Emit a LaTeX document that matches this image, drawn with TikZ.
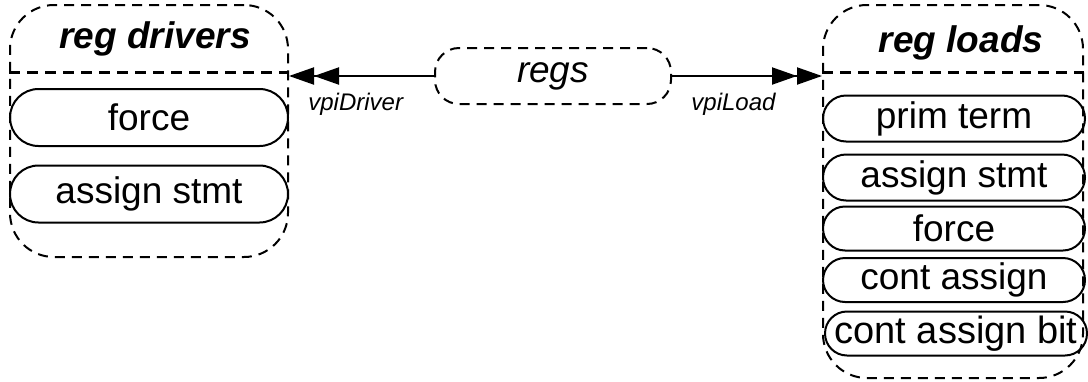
\documentclass[tikz,border=0pt]{standalone}
\usepackage{fontspec}
\setmainfont{Liberation Sans}
\usetikzlibrary{arrows.meta, positioning, shapes.misc}

\begin{document}
\begin{tikzpicture}[
    x=1pt, y=-1pt,
    group/.style={
        draw=black,
        line width=2pt,
        dash pattern=on 10pt off 7pt,
        rounded corners=44pt,
        inner sep=0pt
    },
    header/.style={draw=black, line width=3pt, dash pattern=on 11pt off 7pt},
    title/.style={font=\fontsize{37}{40}\selectfont\bfseries\itshape},
    pill/.style={
        rounded rectangle,
        draw=black,
        line width=2pt,
        inner sep=0pt,
        font=\fontsize{37}{40}\selectfont
    },
    regsbox/.style={
        draw=black,
        line width=2pt,
        dash pattern=on 10pt off 7pt,
        rounded corners=24pt,
        minimum width=236pt,
        minimum height=56pt,
        font=\fontsize{37}{40}\selectfont\itshape
    },
    link/.style={draw=black, line width=2pt,
        -{Triangle[length=25pt,width=17pt]Triangle[length=25pt,width=17pt]}},
    rel/.style={font=\fontsize{24}{28}\selectfont\itshape, inner sep=2pt}
]
\useasboundingbox (0,0) rectangle (1088,381);

% groups
\node[group, minimum width=278pt, minimum height=252pt] (drivers) at (149,131) {};
\node[group, minimum width=260pt, minimum height=373pt] (loads) at (953,191.5) {};
\draw[header] ([yshift=-68pt]drivers.north west) -- ([yshift=-68pt]drivers.north east);
\draw[header] ([yshift=-68pt]loads.north west) -- ([yshift=-68pt]loads.north east);
\node[title] (drvtitle) at (155,39) {reg drivers};
\node[title] (ldtitle) at (961,43) {reg loads};

% drivers
\node[pill, minimum width=278pt, minimum height=57pt] (drvforce) at (149,117.5) {force};
\node[pill, minimum width=278pt, minimum height=57pt] (drvassign) at (149,194) {assign stmt};

% loads
\node[pill, minimum width=262pt, minimum height=46pt] (ldprim) at (954,118.5) {prim term};
\node[pill, minimum width=262pt, minimum height=46pt] (ldassign) at (954,177.5) {assign stmt};
\node[pill, minimum width=262pt, minimum height=44pt] (ldforce) at (954,228.5) {force};
\node[pill, minimum width=262pt, minimum height=44pt] (ldcont) at (954,280) {cont assign};
\node[pill, minimum width=262pt, minimum height=44pt, font=\fontsize{38}{40}\selectfont] (ldcontbit) at (956,333.5) {cont assign bit};

% regs and its relations
\node[regsbox] (regs) at (553,76) {regs};
\draw[link] (regs.west) -- (regs.west -| drivers.east)
    node[rel, pos=0.54, below=14pt] {vpiDriver};
\draw[link] (regs.east) -- (regs.east -| loads.west)
    node[rel, pos=0.41, below=14pt] {vpiLoad};

\end{tikzpicture}
\end{document}
